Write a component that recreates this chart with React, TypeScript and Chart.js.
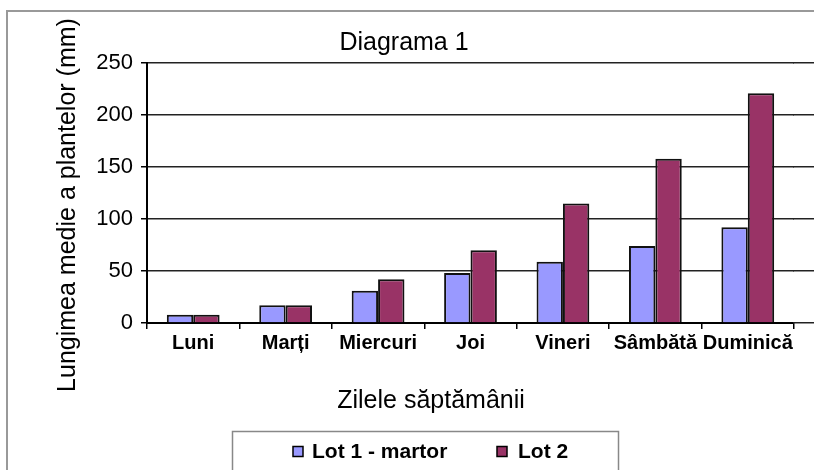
import React, { useEffect, useRef } from "react";
import { Chart, registerables } from "chart.js";

Chart.register(...registerables);

const days = ["Luni", "Marți", "Miercuri", "Joi", "Vineri", "Sâmbătă", "Duminică"];
const lot1 = [8, 17, 31, 48, 59, 74, 92];
const lot2 = [8, 17, 42, 70, 115, 158, 221];
const seriesNames = ["Lot 1 - martor", "Lot 2"];
const seriesColors = ["#9999FF", "#993366"];
const chartTitle = "Diagrama 1";
const yTitle = "Lungimea medie a plantelor (mm)";
const xTitle = "Zilele săptămânii";

const FONT = "'Liberation Sans', Arial, sans-serif";

const align = (p: number, w: number) => Math.round(p - w / 2) + w / 2;

const decor = {
  id: "decor",
  beforeDraw(chart: any) {
    const { ctx, width, height } = chart;
    ctx.save();
    ctx.fillStyle = "#ffffff";
    ctx.fillRect(0, 0, width, height);
    ctx.restore();
  },
  afterDraw(chart: any) {
    const { ctx, width, height, chartArea } = chart;
    const y = chart.scales.y;
    ctx.save();
    // extend horizontal gridlines to the right edge
    ctx.strokeStyle = "#222";
    ctx.lineWidth = 1.5;
    y.ticks.forEach((t: any) => {
      const py = align(y.getPixelForValue(t.value), 1.5);
      ctx.beginPath();
      ctx.moveTo(chartArea.right - 1, py);
      ctx.lineTo(width, py);
      ctx.stroke();
    });
    // chart area frame (top & left)
    ctx.strokeStyle = "#999";
    ctx.lineWidth = 2;
    ctx.beginPath();
    ctx.moveTo(7, height);
    ctx.lineTo(7, 11);
    ctx.lineTo(width, 11);
    ctx.stroke();
    // title
    ctx.fillStyle = "#000";
    ctx.textAlign = "center";
    ctx.textBaseline = "middle";
    ctx.font = `25px ${FONT}`;
    ctx.fillText(chartTitle, 404, 43);
    // x title
    ctx.font = `25px ${FONT}`;
    ctx.fillText(xTitle, 431, 401);
    // y title
    ctx.save();
    ctx.translate(75, 205);
    ctx.rotate(-Math.PI / 2);
    ctx.textBaseline = "alphabetic";
    ctx.font = `25px ${FONT}`;
    ctx.fillText(yTitle, 0, 0);
    ctx.restore();
    // legend
    ctx.strokeStyle = "#888";
    ctx.lineWidth = 1.5;
    ctx.strokeRect(232.5, 431.5, 386, 60);
    const items = [
      { sx: 293, tx: 312 },
      { sx: 497, tx: 518 },
    ];
    chart.data.datasets.forEach((ds: any, i: number) => {
      const it = items[i];
      ctx.fillStyle = ds.backgroundColor;
      ctx.fillRect(it.sx, 446.5, 10, 10);
      ctx.strokeStyle = "#000";
      ctx.lineWidth = 1.5;
      ctx.strokeRect(it.sx, 446.5, 10, 10);
      ctx.fillStyle = "#000";
      ctx.textAlign = "left";
      ctx.font = `bold 21px ${FONT}`;
      ctx.fillText(ds.label, it.tx, 452);
    });
    ctx.restore();
  },
};

export default function App() {
  const ref = useRef<HTMLCanvasElement | null>(null);
  useEffect(() => {
    if (!ref.current) return;
    const chart = new Chart(ref.current, {
      type: "bar",
      data: {
        labels: days,
        datasets: [
          {
            label: seriesNames[0],
            data: lot1,
            backgroundColor: seriesColors[0],
            borderColor: "#111",
            borderWidth: 2,
          },
          {
            label: seriesNames[1],
            data: lot2,
            backgroundColor: seriesColors[1],
            borderColor: "#111",
            borderWidth: 2,
          },
        ],
      },
      options: {
        responsive: false,
        animation: false,
        layout: { padding: { top: 63, right: 20, bottom: 113, left: 0 } },
        datasets: {
          bar: { categoryPercentage: 0.571, barPercentage: 1.0 },
        },
        plugins: {
          legend: { display: false },
          title: { display: false },
          tooltip: { enabled: false },
        },
        scales: {
          x: {
            afterFit: (s: any) => {
              s.height = 34;
            },
            grid: {
              display: true,
              drawOnChartArea: false,
              offset: true,
              tickLength: 6,
              color: "#000",
              lineWidth: 1.5,
            },
            border: { display: true, color: "#000", width: 2 },
            ticks: {
              color: "#000",
              font: { family: FONT, size: 20, weight: "bold" },
              padding: 2,
              maxRotation: 0,
              autoSkip: false,
            },
          },
          y: {
            min: 0,
            max: 250,
            afterFit: (s: any) => {
              s.width = 147;
            },
            grid: {
              color: "#222",
              lineWidth: 1.5,
              tickLength: 6,
              tickColor: "#000",
            },
            border: { display: true, color: "#000", width: 2 },
            ticks: {
              stepSize: 50,
              color: "#000",
              font: { family: FONT, size: 22 },
              padding: 8,
            },
          },
        },
      },
      plugins: [decor],
    });
    return () => chart.destroy();
  }, []);
  return (
    <div style={{ position: "fixed", left: 0, top: 0, width: 814, height: 470 }}>
      <canvas ref={ref} width={814} height={470} />
    </div>
  );
}
